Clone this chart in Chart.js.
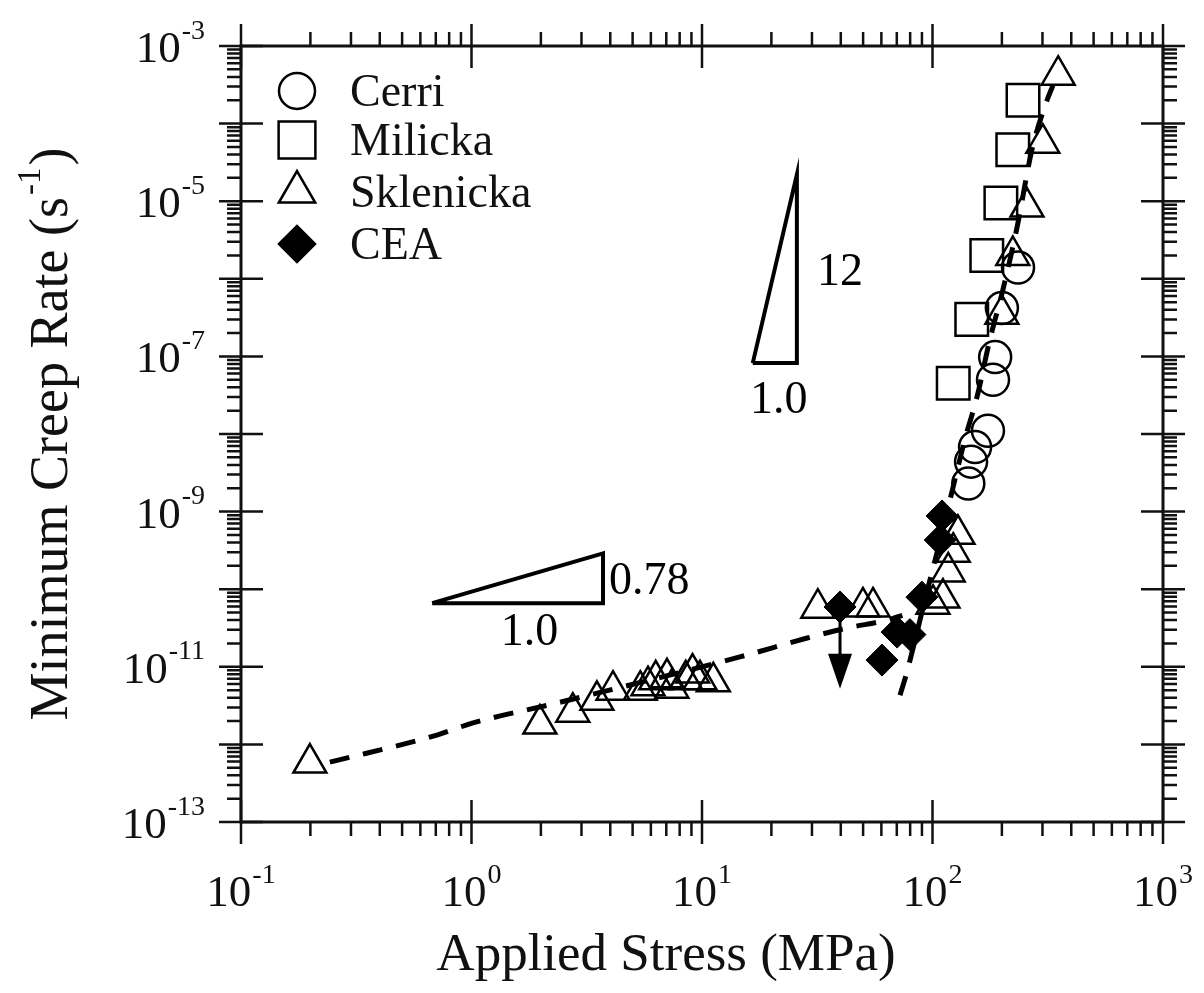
<!DOCTYPE html>
<html>
<head>
<meta charset="utf-8">
<script src="https://cdn.jsdelivr.net/npm/chart.js@4.4.1/dist/chart.umd.min.js"></script>
<style>
  html, body { margin: 0; padding: 0; background: #fff; }
  canvas { display: block; }
</style>
</head>
<body>
<canvas id="creepChart" width="1204" height="993"></canvas>
<script>
// creep data (stress in MPa, rate in 1/s)
var cerriStress = [235, 200, 187, 183, 174, 153, 147, 143];
var cerriRate = [1.4e-6, 4.2e-7, 9.8e-8, 5.0e-8, 1.1e-8, 6.8e-9, 4.4e-9, 2.3e-9];

var milickaStress = [247, 223, 198, 172, 148, 123];
var milickaRate = [2.0e-4, 4.6e-5, 9.5e-6, 2.0e-6, 3.0e-7, 4.5e-8];

var sklenickaStress = [0.199, 1.98, 2.75, 3.5, 4.11, 5.4, 5.83, 6.3, 7.05, 7.4, 8.5, 9.1, 9.8, 11.2,
    31.8, 49.9, 55.2, 100.5, 111, 117, 123, 129, 200, 223, 257, 301, 351];
var sklenickaRate = [5.75e-13, 1.83e-12, 2.6e-12, 3.7e-12, 5.0e-12, 5.0e-12, 5.7e-12, 6.8e-12, 7.2e-12, 5.3e-12, 6.8e-12, 8.3e-12, 6.8e-12, 6.4e-12,
    5.7e-11, 5.9e-11, 5.9e-11, 6.4e-11, 7.7e-11, 1.67e-10, 3.0e-10, 5.1e-10, 3.5e-7, 2.0e-6, 8.4e-6, 5.6e-5, 4.2e-4];

var ceaStress = [39.7, 60.4, 70.2, 79.8, 90, 108, 110];
var ceaRate = [5.9e-11, 1.22e-11, 2.8e-11, 2.6e-11, 7.9e-11, 4.3e-10, 8.8e-10];

// dashed fits
var lowFitStress = [0.243, 0.708, 1.015, 2.35, 14.6, 28.6, 42.6, 63.5, 74];
var lowFitRate = [5.9e-13, 1.32e-12, 1.89e-12, 3.42e-12, 1.34e-11, 2.35e-11, 3.16e-11, 4.0e-11, 4.6e-11];
var highFitStress = [72.3, 77.5, 84, 92.7, 108, 123, 138, 156, 177, 202, 233, 270, 314, 333];
var highFitRate = [4.3e-12, 8.6e-12, 2.2e-11, 7.3e-11, 4.3e-10, 2.1e-9, 8.4e-9, 3.0e-8, 1.6e-7, 7.2e-7, 4.7e-6, 4.6e-5, 2.0e-4, 3.1e-4];

// upper-bound arrow on the CEA point at 40 MPa
var arrowStress = 39.7;
var arrowRate = [5.9e-11, 5.2e-12];

// slope triangles
var slopeLowStress = [0.675, 3.72, 3.72, 0.675];
var slopeLowRate = [6.6e-11, 6.6e-11, 2.9e-10, 6.6e-11];
var slopeLowText = ['0.78', '1.0'];
var slopeHighStress = [16.6, 25.8, 25.8, 16.6];
var slopeHighRate = [8.2e-8, 8.2e-8, 2.2e-5, 8.2e-8];
var slopeHighText = ['12', '1.0'];

var xTickExps = [-1, 0, 1, 2, 3];
var yTickExps = [-3, -5, -7, -9, -11, -13];

var serif = "'Liberation Serif', 'Times New Roman', serif";

function pts(xs, ys) {
    return xs.map(function (v, i) { return { x: v, y: ys[i] }; });
}

// "10" with a raised exponent
function drawPow(ctx, base, exp, x, y, size, align) {
    var es = Math.round(size * 0.62);
    ctx.font = size + 'px ' + serif;
    var bw = ctx.measureText(base).width;
    ctx.font = es + 'px ' + serif;
    var ew = ctx.measureText(exp).width;
    var total = bw + ew + 1;
    var left = align === 'center' ? x - total / 2 : (align === 'right' ? x - total : x);
    ctx.textAlign = 'left';
    ctx.textBaseline = 'alphabetic';
    ctx.font = size + 'px ' + serif;
    ctx.fillText(base, left, y);
    ctx.font = es + 'px ' + serif;
    ctx.fillText(exp, left + bw + 1, y - size * 0.52);
}

var annotations = {
    id: 'annotations',
    beforeDatasetsDraw: function (chart) {
        var ctx = chart.ctx, x = chart.scales.x, y = chart.scales.y;
        ctx.save();
        // arrow
        var ax = x.getPixelForValue(arrowStress);
        var y0 = y.getPixelForValue(arrowRate[0]);
        var y1 = y.getPixelForValue(arrowRate[1]);
        ctx.strokeStyle = '#000';
        ctx.fillStyle = '#000';
        ctx.lineWidth = 3;
        ctx.beginPath();
        ctx.moveTo(ax, y0);
        ctx.lineTo(ax, y1 - 30);
        ctx.stroke();
        ctx.beginPath();
        ctx.moveTo(ax - 12, y1 - 35);
        ctx.lineTo(ax + 12, y1 - 35);
        ctx.lineTo(ax, y1);
        ctx.closePath();
        ctx.fill();

        // slope labels
        ctx.font = '46px ' + serif;
        ctx.textBaseline = 'alphabetic';
        var lx0 = x.getPixelForValue(slopeLowStress[0]);
        var lx1 = x.getPixelForValue(slopeLowStress[1]);
        var lyb = y.getPixelForValue(slopeLowRate[0]);
        var lyt = y.getPixelForValue(slopeLowRate[2]);
        ctx.textAlign = 'left';
        ctx.fillText(slopeLowText[0], lx1 + 6, (lyb + lyt) / 2 + 16);
        ctx.textAlign = 'center';
        ctx.fillText(slopeLowText[1], (lx0 + lx1) / 2 + 12, lyb + 42);

        var hx0 = x.getPixelForValue(slopeHighStress[0]);
        var hx1 = x.getPixelForValue(slopeHighStress[1]);
        var hyb = y.getPixelForValue(slopeHighRate[0]);
        var hyt = y.getPixelForValue(slopeHighRate[2]);
        ctx.textAlign = 'left';
        ctx.fillText(slopeHighText[0], hx1 + 20, (hyb + hyt) / 2 + 16);
        ctx.textAlign = 'center';
        ctx.fillText(slopeHighText[1], (hx0 + hx1) / 2 + 4, hyb + 50);
        ctx.restore();
    }
};

var frame = {
    id: 'frame',
    afterDraw: function (chart) {
        var ctx = chart.ctx, a = chart.chartArea, x = chart.scales.x, y = chart.scales.y;
        var major = 22, minor = 14;
        ctx.save();
        ctx.strokeStyle = '#111';
        ctx.lineWidth = 3;
        ctx.strokeRect(a.left, a.top, a.right - a.left, a.bottom - a.top);
        ctx.lineWidth = 2.5;
        ctx.beginPath();
        var e, m, p;
        for (e = -1; e <= 3; e++) {
            p = x.getPixelForValue(Math.pow(10, e));
            ctx.moveTo(p, a.bottom - major); ctx.lineTo(p, a.bottom + major);
            ctx.moveTo(p, a.top - major); ctx.lineTo(p, a.top + major);
            if (e === 3) continue;
            for (m = 2; m <= 9; m++) {
                p = x.getPixelForValue(m * Math.pow(10, e));
                ctx.moveTo(p, a.bottom); ctx.lineTo(p, a.bottom + minor);
                ctx.moveTo(p, a.top); ctx.lineTo(p, a.top - minor);
            }
        }
        for (e = -13; e <= -3; e++) {
            p = y.getPixelForValue(Math.pow(10, e));
            ctx.moveTo(a.left - major, p); ctx.lineTo(a.left + major, p);
            ctx.moveTo(a.right - major, p); ctx.lineTo(a.right + major, p);
            if (e === -3) continue;
            for (m = 2; m <= 9; m++) {
                p = y.getPixelForValue(m * Math.pow(10, e));
                ctx.moveTo(a.left - minor, p); ctx.lineTo(a.left, p);
                ctx.moveTo(a.right, p); ctx.lineTo(a.right + minor, p);
            }
        }
        ctx.stroke();

        // tick labels
        ctx.fillStyle = '#111';
        xTickExps.forEach(function (ex) {
            drawPow(ctx, '10', String(ex), x.getPixelForValue(Math.pow(10, ex)), a.bottom + 84, 45, 'center');
        });
        yTickExps.forEach(function (ex) {
            drawPow(ctx, '10', String(ex), a.left - 36, y.getPixelForValue(Math.pow(10, ex)) + 16, 45, 'right');
        });

        // axis titles
        ctx.font = '53px ' + serif;
        ctx.textAlign = 'center';
        ctx.textBaseline = 'alphabetic';
        ctx.fillText('Applied Stress (MPa)', (a.left + a.right) / 2 - 36, 970);

        ctx.save();
        ctx.translate(67, (a.top + a.bottom) / 2);
        ctx.rotate(-Math.PI / 2);
        var t1 = 'Minimum Creep Rate (s', t2 = '-1', t3 = ')';
        ctx.font = '54px ' + serif;
        var w1 = ctx.measureText(t1).width, w3 = ctx.measureText(t3).width;
        ctx.font = '33px ' + serif;
        var w2 = ctx.measureText(t2).width;
        var start = -(w1 + w2 + w3 + 4) / 2;
        ctx.textAlign = 'left';
        ctx.font = '54px ' + serif;
        ctx.fillText(t1, start, 0);
        ctx.font = '33px ' + serif;
        ctx.fillText(t2, start + w1 + 2, -27);
        ctx.font = '54px ' + serif;
        ctx.fillText(t3, start + w1 + w2 + 4, 0);
        ctx.restore();

        // legend
        var ly = [91, 140, 192, 244];
        var k = 0;
        chart.data.datasets.forEach(function (ds) {
            if (!ds.inLegend) return;
            ctx.fillStyle = ds.pointBackgroundColor;
            ctx.strokeStyle = '#000';
            ctx.lineWidth = 2.5;
            Chart.helpers.drawPoint(ctx, {
                pointStyle: ds.pointStyle, radius: ds.legendRadius, borderWidth: 2.5, rotation: 0
            }, 297, ly[k]);
            ctx.fillStyle = '#111';
            ctx.font = '46px ' + serif;
            ctx.textAlign = 'left';
            ctx.fillText(ds.label, 350, ly[k] + 15);
            k++;
        });
        ctx.restore();
    }
};

var openMarker = 'rgba(0,0,0,0)';

var ctx = document.getElementById('creepChart');
var creepChart = new Chart(ctx, {
    type: 'scatter',
    data: {
        datasets: [{
            label: 'Cerri',
            data: pts(cerriStress, cerriRate),
            pointStyle: 'circle',
            pointRadius: 16,
            legendRadius: 18,
            pointBackgroundColor: openMarker,
            pointBorderColor: '#000',
            pointBorderWidth: 2.5,
            inLegend: true,
            order: 3
        }, {
            label: 'Milicka',
            data: pts(milickaStress, milickaRate),
            pointStyle: 'rect',
            pointRadius: 23,
            legendRadius: 26,
            pointBackgroundColor: openMarker,
            pointBorderColor: '#000',
            pointBorderWidth: 2.5,
            inLegend: true,
            order: 4
        }, {
            label: 'Sklenicka',
            data: pts(sklenickaStress, sklenickaRate),
            pointStyle: 'triangle',
            pointRadius: 19,
            legendRadius: 21,
            pointBackgroundColor: openMarker,
            pointBorderColor: '#000',
            pointBorderWidth: 2.5,
            inLegend: true,
            order: 5
        }, {
            label: 'CEA',
            data: pts(ceaStress, ceaRate),
            pointStyle: 'rectRot',
            pointRadius: 16,
            legendRadius: 18,
            pointBackgroundColor: '#000',
            pointBorderColor: '#000',
            pointBorderWidth: 1,
            inLegend: true,
            order: 1
        }, {
            label: 'low fit',
            data: pts(lowFitStress, lowFitRate),
            showLine: true,
            pointRadius: 0,
            borderColor: '#000',
            borderWidth: 5,
            borderDash: [20, 14],
            cubicInterpolationMode: 'monotone',
            order: 2
        }, {
            label: 'high fit',
            data: pts(highFitStress, highFitRate),
            showLine: true,
            pointRadius: 0,
            borderColor: '#000',
            borderWidth: 5,
            borderDash: [20, 14],
            cubicInterpolationMode: 'monotone',
            order: 2
        }, {
            label: 'slope 0.78',
            data: pts(slopeLowStress, slopeLowRate),
            showLine: true,
            pointRadius: 0,
            borderColor: '#000',
            borderWidth: 4,
            tension: 0,
            order: 6
        }, {
            label: 'slope 12',
            data: pts(slopeHighStress, slopeHighRate),
            showLine: true,
            pointRadius: 0,
            borderColor: '#000',
            borderWidth: 4,
            tension: 0,
            order: 6
        }]
    },
    options: {
        responsive: false,
        animation: false,
        layout: { padding: { left: 241, right: 41, top: 46, bottom: 171 } },
        plugins: {
            legend: { display: false },
            tooltip: { enabled: false }
        },
        scales: {
            x: { type: 'logarithmic', min: 0.1, max: 1000, display: false },
            y: { type: 'logarithmic', min: 1e-13, max: 1e-3, display: false }
        }
    },
    plugins: [annotations, frame]
});
</script>
</body>
</html>
